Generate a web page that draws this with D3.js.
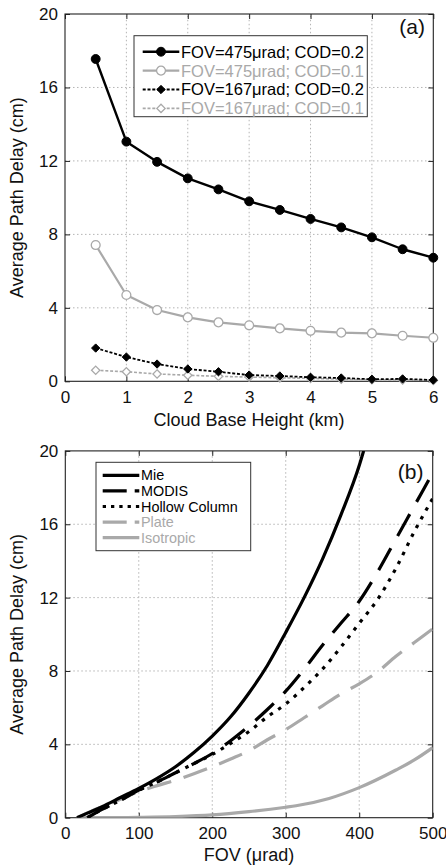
<!DOCTYPE html>
<html>
<head>
<meta charset="utf-8">
<script src="https://cdn.jsdelivr.net/npm/d3@7"></script>
<style>
  html, body { margin: 0; padding: 0; background: #fff; }
  svg { display: block; font-family: "Liberation Sans", Arial, Helvetica, sans-serif; }
</style>
</head>
<body>
<svg id="chart" width="446" height="866"></svg>
<script>
// ---------- Panel (a) data ----------
const cloudBaseHeight = [0.5, 1, 1.5, 2, 2.5, 3, 3.5, 4, 4.5, 5, 5.5, 6];
const fov475cod02 = [17.55, 13.05, 11.95, 11.05, 10.45, 9.8, 9.33, 8.84, 8.38, 7.84, 7.19, 6.73];
const fov475cod01 = [7.42, 4.7, 3.88, 3.48, 3.21, 3.05, 2.88, 2.75, 2.65, 2.61, 2.48, 2.37];
const fov167cod02 = [1.81, 1.32, 0.94, 0.67, 0.52, 0.34, 0.29, 0.22, 0.18, 0.11, 0.13, 0.07];
const fov167cod01 = [0.6, 0.52, 0.4, 0.33, 0.27, 0.23, 0.19, 0.16, 0.11, 0.09, 0.07, 0.05];
const seriesNamesA = ["FOV=475\u03bcrad; COD=0.2", "FOV=475\u03bcrad; COD=0.1", "FOV=167\u03bcrad; COD=0.2", "FOV=167\u03bcrad; COD=0.1"];
const xTicksA = [0, 1, 2, 3, 4, 5, 6];
const yTicksA = [0, 4, 8, 12, 16, 20];

// ---------- Panel (b) data ----------
const mieFov = [16, 30, 50, 75, 100, 125, 150, 175, 200, 225, 250, 275, 300, 325, 350, 375, 400, 406];
const mieDelay = [0, 0.25, 0.6, 1.1, 1.6, 2.15, 2.78, 3.55, 4.45, 5.5, 6.8, 8.3, 10.1, 12.0, 14.1, 16.5, 19.2, 20];
const modisFov = [30, 50, 75, 100, 125, 150, 175, 200, 225, 250, 275, 300, 325, 350, 375, 400, 425, 450, 475, 500];
const modisDelay = [0, 0.45, 0.95, 1.5, 1.95, 2.45, 2.95, 3.5, 4.2, 5.0, 5.9, 6.9, 8.1, 9.4, 10.6, 11.8, 13.4, 15.2, 17.0, 18.8];
const hollowFov = [30, 50, 75, 100, 125, 150, 175, 200, 225, 250, 275, 300, 325, 350, 375, 400, 425, 450, 475, 500];
const hollowDelay = [0, 0.45, 0.95, 1.5, 1.95, 2.45, 2.95, 3.45, 4.05, 4.7, 5.5, 6.2, 7.1, 8.1, 9.3, 10.6, 11.9, 13.6, 15.6, 17.4];
const plateFov = [16, 50, 75, 100, 125, 150, 175, 200, 225, 250, 275, 300, 325, 350, 375, 400, 425, 450, 475, 500];
const plateDelay = [0, 0.6, 1.0, 1.42, 1.75, 2.05, 2.4, 2.78, 3.2, 3.65, 4.25, 4.8, 5.45, 6.1, 6.75, 7.3, 7.95, 8.8, 9.55, 10.3];
const isoFov = [20, 50, 100, 150, 200, 250, 300, 314, 359, 400, 450, 475, 500];
const isoDelay = [0, 0, 0.02, 0.06, 0.15, 0.33, 0.57, 0.65, 1.05, 1.64, 2.6, 3.15, 3.82];
const seriesNamesB = ["Mie", "MODIS", "Hollow Column", "Plate", "Isotropic"];
const xTicksB = [0, 100, 200, 300, 400, 500];
const yTicksB = [0, 4, 8, 12, 16, 20];

// ---------- styling ----------
const GRAY = "#a9a9a9";
const GRID = "#b4b4b4";
const TICKFONT = 17;
const TITLEFONT = 18;

const svg = d3.select("#chart");
svg.append("rect").attr("width", 446).attr("height", 866).attr("fill", "#fff");

function drawFrame(g, x, y, xTicks, yTicks, xPad) {
  const [x0, x1] = x.range();
  const [y0, y1] = y.range();
  // grid
  g.append("g").selectAll("line").data(xTicks.filter(t => t !== xTicks[0] && t !== xTicks[xTicks.length - 1]))
    .join("line").attr("x1", d => x(d)).attr("x2", d => x(d)).attr("y1", y0).attr("y2", y1)
    .attr("stroke", GRID).attr("stroke-width", 1).attr("stroke-dasharray", "1.5,2.5");
  g.append("g").selectAll("line").data(yTicks.filter(t => t !== yTicks[0] && t !== yTicks[yTicks.length - 1]))
    .join("line").attr("x1", x0).attr("x2", x1).attr("y1", d => y(d)).attr("y2", d => y(d))
    .attr("stroke", GRID).attr("stroke-width", 1).attr("stroke-dasharray", "1.5,2.5");
  // axes with inward ticks
  const styleAxis = sel => {
    sel.select(".domain").remove();
    sel.selectAll(".tick line").attr("stroke", "#222").attr("stroke-width", 1);
    sel.selectAll("text").attr("font-size", TICKFONT).attr("fill", "#111")
      .attr("font-family", '"Liberation Sans", Arial, Helvetica, sans-serif');
  };
  g.append("g").attr("transform", `translate(0,${y0})`)
    .call(d3.axisBottom(x).tickValues(xTicks).tickSize(-5).tickPadding(xPad).tickFormat(d3.format("d")))
    .call(styleAxis);
  g.append("g").attr("transform", `translate(0,${y1})`)
    .call(d3.axisTop(x).tickValues(xTicks).tickSize(-5).tickFormat(""))
    .call(styleAxis);
  g.append("g").attr("transform", `translate(${x0},0)`)
    .call(d3.axisLeft(y).tickValues(yTicks).tickSize(-5).tickPadding(7).tickFormat(d3.format("d")))
    .call(styleAxis);
  g.append("g").attr("transform", `translate(${x1},0)`)
    .call(d3.axisRight(y).tickValues(yTicks).tickSize(-5).tickFormat(""))
    .call(styleAxis);
  // box
  g.append("rect").attr("x", x0).attr("y", y1).attr("width", x1 - x0).attr("height", y0 - y1)
    .attr("fill", "none").attr("stroke", "#222").attr("stroke-width", 1.1);
}

// =================== Panel (a) ===================
const xA = d3.scaleLinear().domain([0, 6]).range([65, 433.3]);
const yA = d3.scaleLinear().domain([0, 20]).range([381.3, 14]);
const gA = svg.append("g");
drawFrame(gA, xA, yA, xTicksA, yTicksA, 10);

const seriesA = [
  { name: seriesNamesA[0], vals: fov475cod02, color: "#000", width: 2.4, dash: null, marker: "circle", fill: "#000" },
  { name: seriesNamesA[1], vals: fov475cod01, color: GRAY, width: 2.2, dash: null, marker: "circle", fill: "#fff" },
  { name: seriesNamesA[2], vals: fov167cod02, color: "#000", width: 1.8, dash: "3,1.8", marker: "diamond", fill: "#000" },
  { name: seriesNamesA[3], vals: fov167cod01, color: GRAY, width: 1.6, dash: "3,1.8", marker: "diamond", fill: "#fff" }
];

const lineA = d3.line().x((d, i) => xA(cloudBaseHeight[i])).y(d => yA(d));
const symCircle = d3.symbol().type(d3.symbolCircle).size(62);
const symDiamond = d3.symbol().type(d3.symbolDiamond2 || d3.symbolDiamond).size(44);

function drawMarker(sel, s, cx, cy) {
  sel.append("path")
    .attr("d", s.marker === "circle" ? symCircle() : symDiamond())
    .attr("transform", `translate(${cx},${cy})`)
    .attr("fill", s.fill)
    .attr("stroke", s.color)
    .attr("stroke-width", s.fill === "#fff" ? 1.3 : 1);
}

seriesA.slice().reverse().forEach(s => {
  gA.append("path").datum(s.vals).attr("d", lineA)
    .attr("fill", "none").attr("stroke", s.color).attr("stroke-width", s.width)
    .attr("stroke-dasharray", s.dash).attr("stroke-linejoin", "round");
  const mg = gA.append("g");
  s.vals.forEach((v, i) => drawMarker(mg, s, xA(cloudBaseHeight[i]), yA(v)));
});

// legend (a)
const legA = gA.append("g");
legA.append("rect").attr("x", 134).attr("y", 35.7).attr("width", 233.3).attr("height", 81)
  .attr("fill", "#fff").attr("stroke", "#333").attr("stroke-width", 1);
seriesA.forEach((s, i) => {
  const cy = 51.7 + i * 18.9;
  legA.append("line").attr("x1", 142.7).attr("x2", 179.3).attr("y1", cy).attr("y2", cy)
    .attr("stroke", s.color).attr("stroke-width", s.width).attr("stroke-dasharray", s.dash);
  drawMarker(legA, s, 161, cy);
  legA.append("text").attr("x", 181).attr("y", cy).attr("dy", "0.36em")
    .attr("font-size", 16.5).attr("fill", s.color === "#000" ? "#000" : GRAY).text(s.name);
});

gA.append("text").attr("x", 425).attr("y", 34).attr("text-anchor", "end")
  .attr("font-size", 21).attr("fill", "#111").text("(a)");
gA.append("text").attr("x", 249).attr("y", 425.6).attr("text-anchor", "middle")
  .attr("font-size", TITLEFONT).attr("fill", "#111").text("Cloud Base Height (km)");
gA.append("text").attr("transform", `translate(23,${(381.3 + 14) / 2}) rotate(-90)`)
  .attr("text-anchor", "middle").attr("font-size", TITLEFONT).attr("fill", "#111")
  .text("Average Path Delay (cm)");

// =================== Panel (b) ===================
const xB = d3.scaleLinear().domain([0, 500]).range([65.3, 432.7]);
const yB = d3.scaleLinear().domain([0, 20]).range([817.7, 450.9]);
const gB = svg.append("g");
drawFrame(gB, xB, yB, xTicksB, yTicksB, 9.5);

svg.append("defs").append("clipPath").attr("id", "clipB")
  .append("rect").attr("x", 65.3).attr("y", 450.9).attr("width", 432.7 - 65.3).attr("height", 817.7 - 450.9);

const seriesB = [
  { name: seriesNamesB[0], fov: mieFov, delay: mieDelay, color: "#000", dash: null, legDash: null },
  { name: seriesNamesB[1], fov: modisFov, delay: modisDelay, color: "#000", dash: "25,14", legDash: "24,8" },
  { name: seriesNamesB[2], fov: hollowFov, delay: hollowDelay, color: "#000", dash: "3.5,6.5", legDash: "3.3,5" },
  { name: seriesNamesB[3], fov: plateFov, delay: plateDelay, color: GRAY, dash: "25,13", legDash: "24,8" },
  { name: seriesNamesB[4], fov: isoFov, delay: isoDelay, color: GRAY, dash: null, legDash: null }
];

const dataG = gB.append("g").attr("clip-path", "url(#clipB)");
seriesB.slice().reverse().forEach(s => {
  const line = d3.line().x((d, i) => xB(s.fov[i])).y(d => yB(d)).curve(d3.curveMonotoneX);
  dataG.append("path").datum(s.delay).attr("d", line)
    .attr("fill", "none").attr("stroke", s.color).attr("stroke-width", 3.2)
    .attr("stroke-dasharray", s.dash).attr("stroke-linejoin", "round");
});

// legend (b)
const legB = gB.append("g");
legB.append("rect").attr("x", 96).attr("y", 462.3).attr("width", 154.7).attr("height", 88.4)
  .attr("fill", "#fff").attr("stroke", "#333").attr("stroke-width", 1);
seriesB.forEach((s, i) => {
  const cy = 475.3 + i * 15.6;
  legB.append("line").attr("x1", 102.7).attr("x2", 139.3).attr("y1", cy).attr("y2", cy)
    .attr("stroke", s.color).attr("stroke-width", 3.2).attr("stroke-dasharray", s.legDash);
  legB.append("text").attr("x", 141).attr("y", cy).attr("dy", "0.36em")
    .attr("font-size", 14.4).attr("fill", s.color === "#000" ? "#000" : GRAY).text(s.name);
});

gB.append("text").attr("x", 423.5).attr("y", 478.6).attr("text-anchor", "end")
  .attr("font-size", 21).attr("fill", "#111").text("(b)");
gB.append("text").attr("x", 249).attr("y", 860.5).attr("text-anchor", "middle")
  .attr("font-size", TITLEFONT).attr("fill", "#111").text("FOV (\u03bcrad)");
gB.append("text").attr("transform", `translate(23,${(817.7 + 450.9) / 2}) rotate(-90)`)
  .attr("text-anchor", "middle").attr("font-size", TITLEFONT).attr("fill", "#111")
  .text("Average Path Delay (cm)");
</script>
</body>
</html>
